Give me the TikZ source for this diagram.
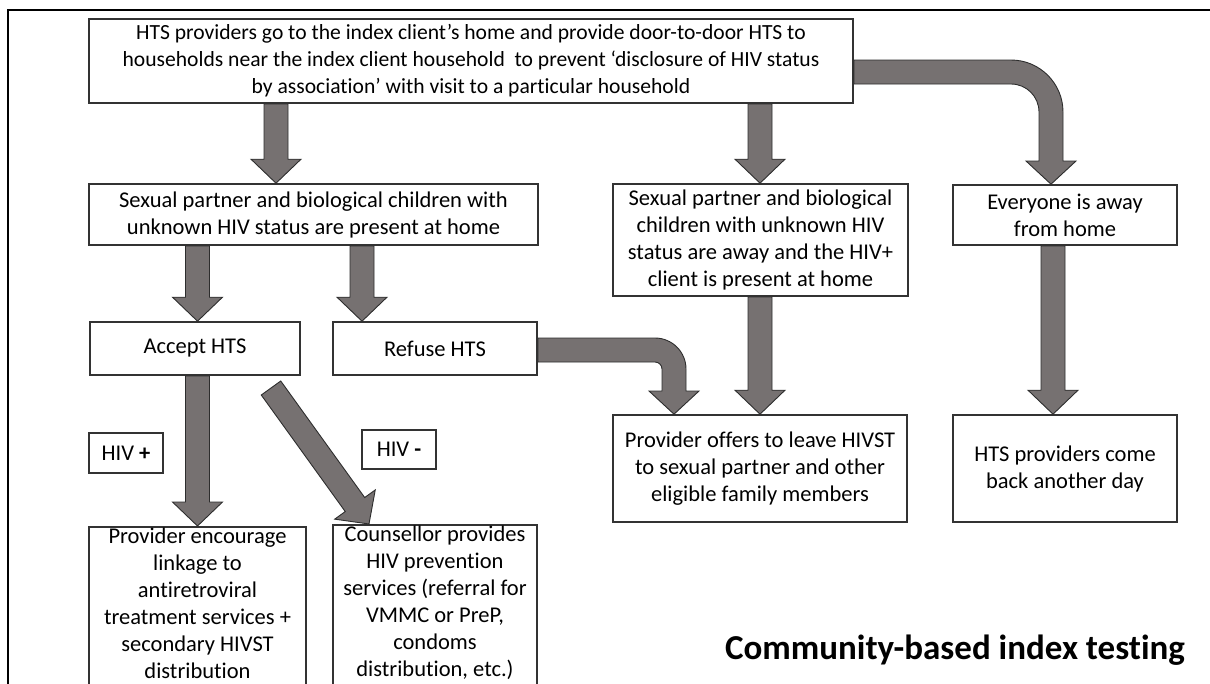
\documentclass[tikz,border=0pt]{standalone}
\usepackage{fontspec}
\setmainfont{Carlito}[Ligatures=NoCommon]
\usetikzlibrary{calc}
\definecolor{agray}{RGB}{118,113,113}
\definecolor{aline}{RGB}{45,45,45}
\newcommand{\fatarrow}[2]{%
  \coordinate (fa1) at (#1);
  \coordinate (fa2) at (#2);
  \coordinate (fac) at ($(fa2)!24pt!(fa1)$);
  \filldraw[arrowst] ($(fa1)!12pt!90:(fa2)$) -- ($(fac)!12pt!90:(fa2)$) -- ($(fac)!25pt!90:(fa2)$) -- (fa2)
    -- ($(fac)!25pt!-90:(fa2)$) -- ($(fac)!12pt!-90:(fa2)$) -- ($(fa1)!12pt!-90:(fa2)$) -- cycle;}
\begin{document}
\begin{tikzpicture}[x=1pt,y=-1pt,
  font=\fontsize{22.5}{27}\selectfont,
  box/.style={draw=black!80, line width=1.6pt, rectangle, inner sep=0pt, align=center},
  txt/.style={inner sep=0pt, align=center},
  arrowst/.style={fill=agray, draw=aline, line width=0.9pt, line join=miter}]
\useasboundingbox (0,0) rectangle (1210,683);
\clip (0,0) rectangle (1210,683);
\draw[line width=1.8pt] (8,690) -- (8,10) -- (1215,10);

% boxes
\node[box, minimum width=764pt, minimum height=84pt, font=\fontsize{21.6}{27}\selectfont] (b1) at (471,61)
  {HTS providers go to the index client’s home and provide door-to-door HTS to\\
   households near the index client household~ to prevent ‘disclosure of HIV status\\
   by association’ with visit to a particular household};
\node[box, minimum width=449pt, minimum height=61pt] (b2) at (313.5,214.5)
  {Sexual partner and biological children with\\unknown HIV status are present at home};
\node[box, minimum width=295pt, minimum height=112pt] (b3) at (760.5,240)
  {Sexual partner and biological\\children with unknown HIV\\status are away and the HIV+\\client is present at home};
\node[box, minimum width=224pt, minimum height=60pt] (away) at (1065,215)
  {Everyone is away\\from home};
\node[box, minimum width=210pt, minimum height=53pt] (acc) at (195,348.5) {Accept HTS};
\node[box, minimum width=204pt, minimum height=53pt] (ref) at (435,348.5) {Refuse HTS};
\node[box, minimum width=294pt, minimum height=107pt] (offer) at (760,468.5)
  {Provider offers to leave HIVST\\to sexual partner and other\\eligible family members};
\node[box, minimum width=224pt, minimum height=107pt] (back) at (1065,468.5)
  {HTS providers come\\back another day};
\node[box, minimum width=74pt, minimum height=40pt] (hivp) at (126,453) {HIV \textbf{+}};
\node[box, minimum width=74pt, minimum height=39pt] (hivm) at (399,449.5) {HIV \textbf{-}};
\node[box, minimum width=217pt, minimum height=180pt, anchor=north] (enc) at (197.5,526) {};
\node[txt] (enct) at (197.5,603)
  {Provider encourage\\linkage to\\antiretroviral\\treatment services +\\secondary HIVST\\distribution};
\node[box, minimum width=204pt, minimum height=180pt, anchor=north] (cou) at (435,524) {};
\node[txt] (cout) at (435,603)
  {Counsellor provides\\HIV prevention\\services (referral for\\VMMC or PreP,\\condoms\\distribution, etc.)};
\node[font=\fontsize{35}{42}\selectfont\bfseries] (title) at (955,650) {Community-based index testing};

% guides
\coordinate (gA) at (276,0);
\coordinate (gB) at (760,0);
\coordinate (gC) at (197.5,0);
\coordinate (gD) at (362,0);
\coordinate (gE) at (1053,0);
\coordinate (gF) at (369,0);
\coordinate (gG) at (674,0);
\coordinate (gH) at (1051,0);
\coordinate (dtail) at (271,388);

% straight arrows
\fatarrow{b1.south -| gA}{b2.north -| gA}
\fatarrow{b1.south -| gB}{b3.north -| gB}
\fatarrow{b2.south -| gC}{acc.north -| gC}
\fatarrow{b2.south -| gD}{ref.north -| gD}
\fatarrow{b3.south -| gB}{offer.north -| gB}
\fatarrow{away.south -| gE}{back.north -| gE}
\fatarrow{acc.south -| gC}{enc.north -| gC}
\fatarrow{dtail}{cou.north -| gF}

% curved arrows
\filldraw[arrowst] ($(b1.east)+(0,-1)$) -- (1011,60) .. controls (1039.7,60) and (1063,83.3) .. (1063,112)
  -- (1063,161) -- (1076,161) -- (away.north -| gH) -- (1026,161) -- (1039,161) -- (1039,112)
  .. controls (1039,96.5) and (1026.5,84) .. (1011,84) -- ($(b1.east)+(0,23)$) -- cycle;
\filldraw[arrowst] ($(ref.east)+(0,-10.5)$) -- (655,338) .. controls (672.1,338) and (686,351.9) .. (686,369)
  -- (686,391) -- (699,391) -- (offer.north -| gG) -- (649,391) -- (662,391) -- (662,369)
  .. controls (662,365.1) and (658.9,362) .. (655,362) -- ($(ref.east)+(0,13.5)$) -- cycle;
\end{tikzpicture}
\end{document}
